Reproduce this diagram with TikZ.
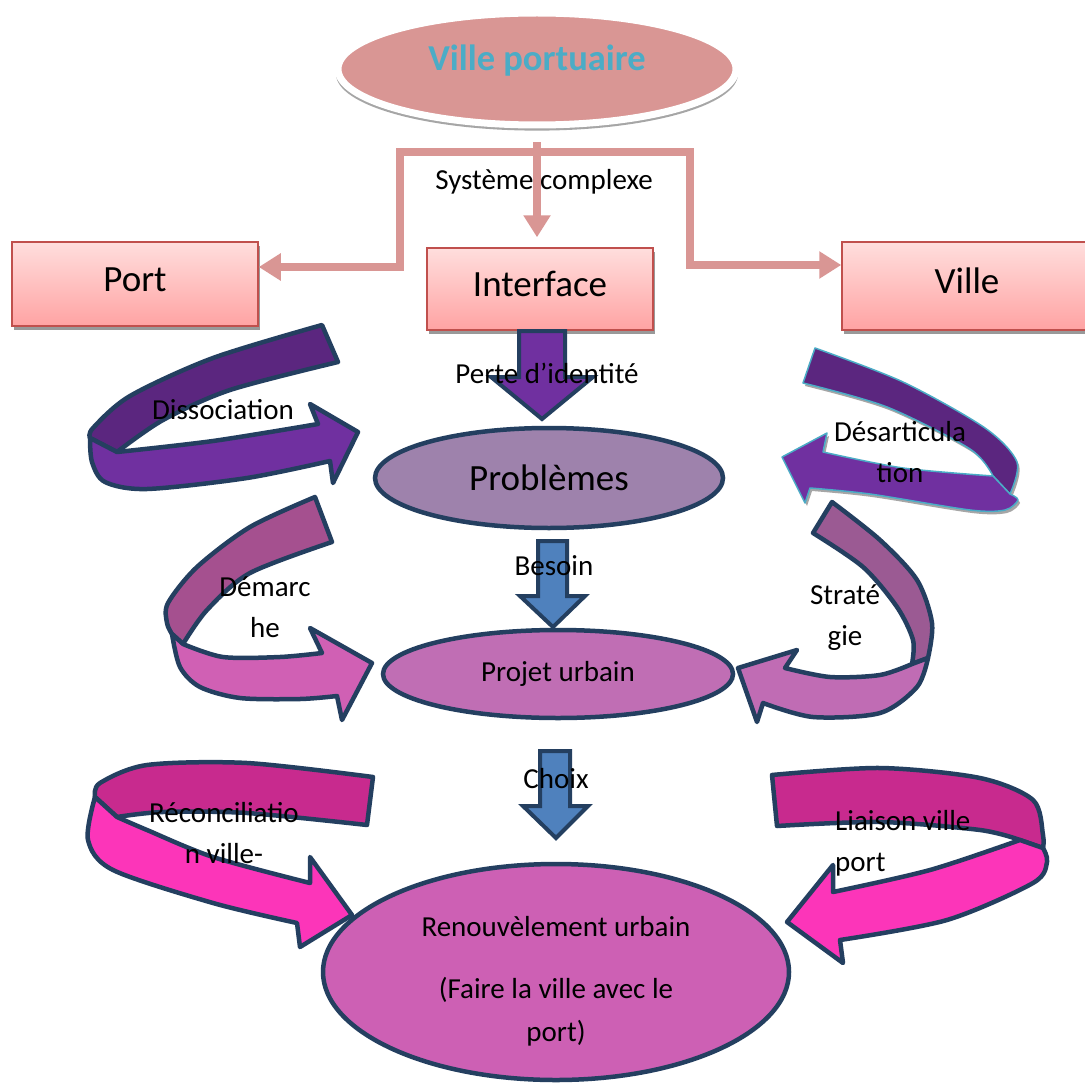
\documentclass[tikz,border=0pt]{standalone}
\usepackage{fontspec}
\setmainfont{Carlito}
\usetikzlibrary{shapes.geometric,arrows.meta,shadows}
\definecolor{vpfill}{HTML}{D99694}
\definecolor{vptext}{HTML}{4BACC6}
\definecolor{connpink}{HTML}{D99694}
\definecolor{boxborder}{HTML}{C0504D}
\definecolor{boxtop}{HTML}{FFDEDD}
\definecolor{boxbot}{HTML}{FFA3A3}
\definecolor{navy}{HTML}{243F60}
\definecolor{purpA}{HTML}{7030A0}
\definecolor{purpDark}{HTML}{5B267F}
\definecolor{probfill}{HTML}{9E82AC}
\definecolor{blockblue}{HTML}{4F81BD}
\definecolor{projfill}{HTML}{C06EB4}
\definecolor{renfill}{HTML}{CD60B4}
\definecolor{demBack}{HTML}{A5508F}
\definecolor{demFront}{HTML}{D060B4}
\definecolor{strBack}{HTML}{9B5A93}
\definecolor{strFront}{HTML}{C06CB4}
\definecolor{recBack}{HTML}{C82A8E}
\definecolor{recFront}{HTML}{FC35B9}
\definecolor{desBorder}{HTML}{4BACC6}
\begin{document}
\begin{tikzpicture}[x=1pt,y=-1pt,
  conn/.style={draw=connpink, line width=7.5pt, line join=miter, -{Triangle[width=26pt,length=22pt]}},
  box/.style={rectangle, draw=boxborder, line width=1.5pt, top color=boxtop, bottom color=boxbot,
    font=\fontsize{37}{44}\selectfont, text height=26pt, text depth=12pt,
    drop shadow={shadow xshift=2pt,shadow yshift=-4pt,fill=black!40,opacity=1}},
  oval/.style={ellipse, draw=navy, line width=4.5pt, inner sep=0pt},
  band/.style={draw=navy, line width=4.5pt, line join=round},
  dband/.style={draw=desBorder, line width=1.5pt, line join=round,
    drop shadow={shadow xshift=2pt,shadow yshift=-3pt,fill=black!35,opacity=1}},
  blockarrow/.style={draw=navy, line width=4pt, line join=miter},
  lbl/.style={font=\fontsize{29}{41}\selectfont, inner sep=0pt, align=center},
]
\useasboundingbox[fill=white] (0,0) rectangle (1084,1086);

% ---------- top ellipse ----------
\node[ellipse, fill=vpfill, draw=white, line width=7pt, minimum width=398pt, minimum height=112pt, inner sep=0pt,
  drop shadow={shadow xshift=0pt,shadow yshift=-5pt,fill=black!35,opacity=1,shadow scale=1.01},
  label={[font=\fontsize{36.5}{44}\bfseries\selectfont, text=vptext, yshift=8pt]center:Ville portuaire}]
  (vp) at (537,69) {};

% ---------- boxes ----------
\node[box, minimum width=246pt, minimum height=84pt] (port) at (135,284) {Port};
\node[box, minimum width=226pt, minimum height=82pt] (iface) at (540,289) {Interface};
\node[box, minimum width=250pt, minimum height=88pt] (ville) at (967,286) {Ville};

% ---------- pink connectors ----------
\coordinate (jc) at (537,152);
\draw[conn] ([yshift=-14pt]vp.south) -- ([yshift=10pt]vp.south |- iface.north);
\draw[conn] (jc) -- (400,152) |- ([yshift=17pt]port.east);
\draw[conn] (jc) -- (690,152) |- ([yshift=21pt]ville.west);

% ---------- curved arrows ----------
% Dissociation
\filldraw[band, fill=purpDark] plot[smooth] coordinates {(322,325) (213,358) (130,396) (93,428) (90,438)}
  -- (117,452) -- plot[smooth] coordinates {(117,452) (163,420) (230,390) (338,362)} -- cycle;
\filldraw[band, fill=purpA] (90,438) -- (117,452)
  -- plot[smooth] coordinates {(117,452) (213,441) (318,424)} -- (310,404) -- (358,432) -- (333,483) -- (330,461)
  -- plot[smooth] coordinates {(330,461) (247,478) (147,489) (105,482) (92,462) (90,438)} -- cycle;

% Desarticulation
\filldraw[dband, fill=purpDark] plot[smooth] coordinates {(815,348) (903,382) (985,428) (1017,462) (1010,494)}
  -- (993,476) -- plot[smooth] coordinates {(993,476) (970,449) (887,407) (803,383)} -- cycle;
\filldraw[dband, fill=purpA] (1010,494) -- (993,476)
  -- plot[smooth] coordinates {(993,476) (903,468) (823,452)} -- (827,433) -- (782,457) -- (805,503) -- (810,488)
  -- plot[smooth] coordinates {(810,488) (870,494) (970,510) (1005,510) (1018,500) (1010,494)} -- cycle;

% Demarche
\filldraw[band, fill=demBack] plot[smooth] coordinates {(315,497) (250,527) (197,567) (168,603) (167,623) (172,634)}
  -- (183,644) -- plot[smooth] coordinates {(183,644) (207,610) (250,573) (332,542)} -- cycle;
\filldraw[band, fill=demFront] (172,634) -- (183,644)
  -- plot[smooth] coordinates {(183,644) (223,657) (280,657) (322,653)} -- (310,628) -- (372,663) -- (342,720) -- (337,696)
  -- plot[smooth] coordinates {(337,696) (300,699) (240,698) (200,687) (180,667) (172,634)} -- cycle;

% Strategie
\filldraw[band, fill=strBack] plot[smooth] coordinates {(832,502) (880,540) (917,580) (932,623) (928,658)}
  -- (912,664) -- plot[smooth] coordinates {(912,664) (913,640) (897,607) (863,567) (813,533)} -- cycle;
\filldraw[band, fill=strFront] (928,658) -- (912,664)
  -- plot[smooth] coordinates {(912,664) (880,675) (830,677) (785,668)} -- (797,650) -- (738,668) -- (757,722) -- (763,703)
  -- plot[smooth] coordinates {(763,703) (813,717) (880,713) (917,687) (928,658)} -- cycle;

% Reconciliation
\filldraw[band, fill=recBack] plot[smooth] coordinates {(373,777) (247,763) (147,765) (100,783) (95,797)}
  -- (117,817) -- plot[smooth] coordinates {(117,817) (163,812) (247,813) (367,825)} -- cycle;
\filldraw[band, fill=recFront] (95,797) -- (117,817)
  -- plot[smooth] coordinates {(117,817) (147,830) (213,857) (310,883)} -- (310,857) -- (352,915) -- (300,947) -- (297,923)
  -- plot[smooth] coordinates {(297,923) (213,903) (113,870) (88,840) (95,797)} -- cycle;

% Liaison ville port
\filldraw[band, fill=recBack] plot[smooth] coordinates {(772,775) (880,768) (980,778) (1033,800) (1043,835) (1043,848)}
  -- (1020,840) -- plot[smooth] coordinates {(1020,840) (980,830) (880,822) (777,826)} -- cycle;
\filldraw[band, fill=recFront] (1043,848) -- (1020,840)
  -- plot[smooth] coordinates {(1020,840) (930,870) (833,892)} -- (833,865) -- (787,922) -- (843,963) -- (840,940)
  -- plot[smooth] coordinates {(840,940) (947,920) (1033,883) (1047,862) (1043,848)} -- cycle;

% ---------- ellipses ----------
\node[oval, fill=probfill, minimum width=348pt, minimum height=100pt, font=\fontsize{37}{44}\selectfont] (prob) at (549,478) {Problèmes};
\node[oval, fill=projfill, minimum width=350pt, minimum height=88pt, font=\fontsize{29}{35}\selectfont] (proj) at (558,674) {Projet urbain};
\node[oval, fill=renfill, minimum width=466pt, minimum height=216pt] (ren) at (556,972) {};

% ---------- block arrows ----------
\filldraw[blockarrow, fill=purpA] (519,331) -- (565,331) -- (565,377) -- (593,377) -- (542,419) -- (491,377) -- (519,377) -- cycle;
\filldraw[blockarrow, fill=blockblue] (538,541) -- (567,541) -- (567,596) -- (585,596) -- (553,627) -- (520,596) -- (538,596) -- cycle;
\filldraw[blockarrow, fill=blockblue] (540,751) -- (570,751) -- (570,806) -- (588,806) -- (556,838) -- (523,806) -- (540,806) -- cycle;

% ---------- labels ----------
\node[lbl] (sys) at (544,182) {Système complexe};
\node[lbl] (perte) at (547,373) {Perte d’identité};
\node[lbl] (besoin) at (554,566) {Besoin};
\node[lbl] (choix) at (556,779) {Choix};
\node[lbl] (diss) at (223,410) {Dissociation};
\node[lbl] (desa) at (900,452) {Désarticula\\tion};
\node[lbl] (dema) at (265,607) {Démarc\\he};
\node[lbl] (stra) at (845,618) {Straté\\gie};
\node[lbl] (reco) at (224,833) {Réconciliatio\\n ville-};
\node[lbl, align=left, anchor=west] (liai) at (835,843) {Liaison ville\\port};
\node[lbl, font=\fontsize{29}{43}\selectfont] (rentxt) at (ren.center) [yshift=-9pt] {Renouvèlement urbain\\[19pt](Faire la ville avec le\\port)};
\end{tikzpicture}
\end{document}
